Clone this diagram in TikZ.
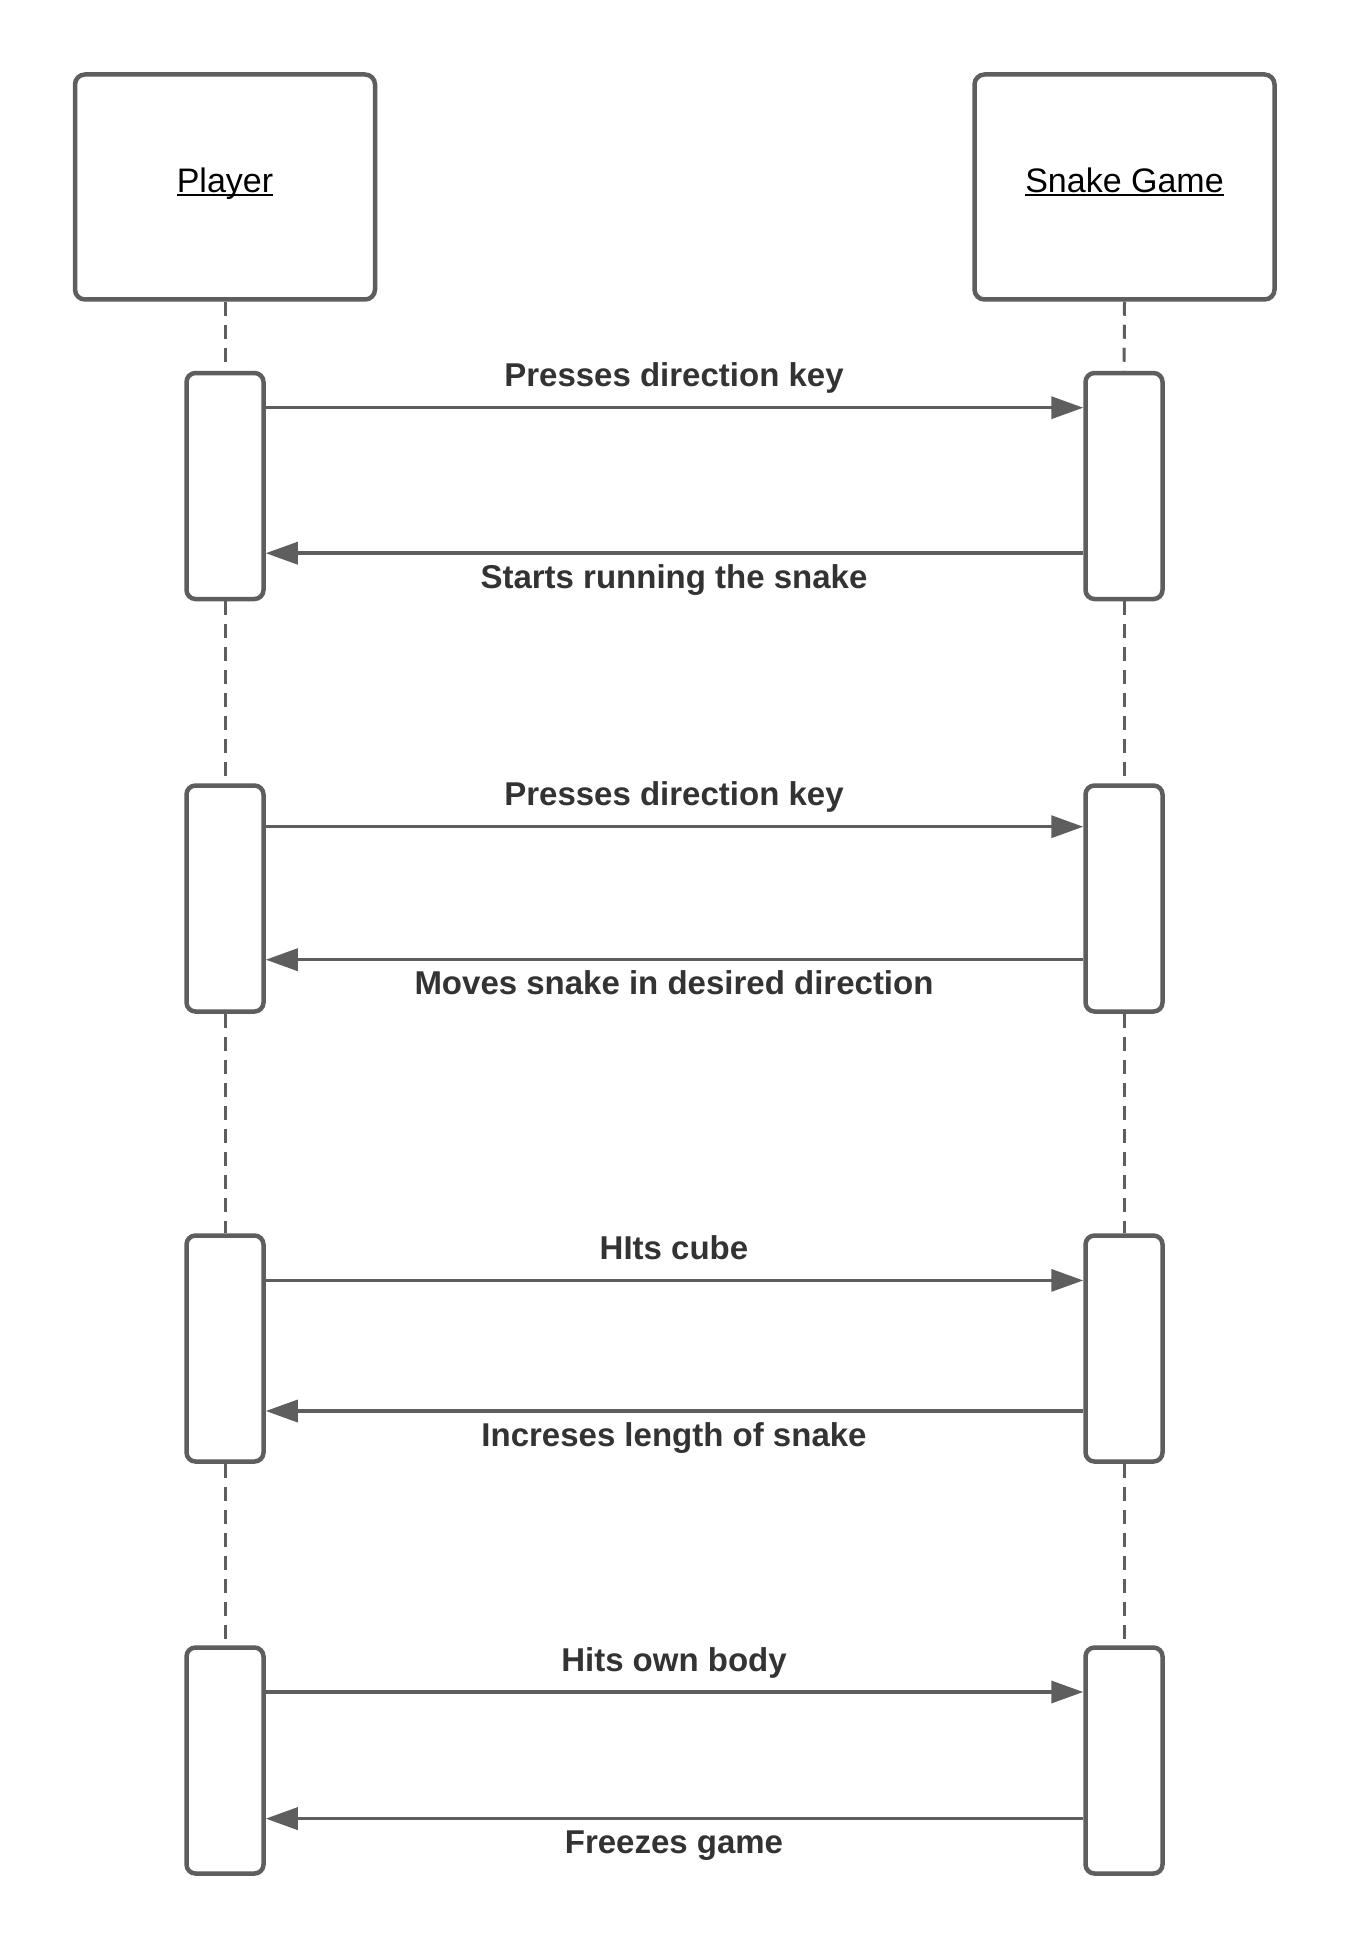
\documentclass[tikz,border=0pt]{standalone}
\usepackage{fontspec}
\setmainfont{Liberation Sans}
\usetikzlibrary{arrows.meta,calc}
\definecolor{ln}{HTML}{5E5E5E}
\definecolor{tx}{HTML}{333333}
\newcommand\myunderl[1]{\setbox0\hbox{#1}\rlap{\rule[-3.5pt]{\wd0}{2pt}}\box0}
\begin{document}
\begin{tikzpicture}[x=1pt,y=-1pt,
 header/.style={draw=ln,line width=4.5pt,rounded corners=10pt,minimum width=300pt,minimum height=225pt,fill=white,font=\fontsize{34}{40}\selectfont,inner sep=0pt,text height=24pt,text depth=12pt},
 act/.style={draw=ln,line width=4.5pt,rounded corners=9pt,minimum width=77pt,minimum height=226pt,fill=white,inner sep=0pt},
 msg/.style={draw=ln,line width=3.5pt,-{Triangle[length=32pt,width=22pt]}},
 lifeline/.style={draw=ln,line width=3pt,dash pattern=on 14pt off 9pt},
 lbl/.style={font=\bfseries\fontsize{33}{40}\selectfont,text=tx,anchor=base,inner sep=0pt}]
\fill[white] (0,0) rectangle (1350,1950);
\useasboundingbox (0,0) rectangle (1350,1950);

\node[header] (player) at (225,187) {\myunderl{Player}};
\node[header] (game) at (1124.5,187) {\myunderl{Snake Game}};

\node[act] (p1) at (225,486) {};
\node[act] (p2) at (225,898.5) {};
\node[act] (p3) at (225,1348.5) {};
\node[act] (p4) at (225,1760.5) {};
\node[act] (g1) at (1124,486) {};
\node[act] (g2) at (1124,898.5) {};
\node[act] (g3) at (1124,1348.5) {};
\node[act] (g4) at (1124,1760.5) {};

\draw[lifeline] (player.south) -- (p1.north);
\draw[lifeline] (p1.south) -- (p2.north);
\draw[lifeline] (p2.south) -- (p3.north);
\draw[lifeline] (p3.south) -- (p4.north);
\draw[lifeline] (game.south) -- (g1.north);
\draw[lifeline] (g1.south) -- (g2.north);
\draw[lifeline] (g2.south) -- (g3.north);
\draw[lifeline] (g3.south) -- (g4.north);

\draw[msg] (p1.east |- 0,407.7) -- (g1.west |- 0,407.7);
\draw[msg] (g1.west |- 0,553.2) -- (p1.east |- 0,553.2);
\draw[msg] (p2.east |- 0,826.7) -- (g2.west |- 0,826.7);
\draw[msg] (g2.west |- 0,959.7) -- (p2.east |- 0,959.7);
\draw[msg] (p3.east |- 0,1280.4) -- (g3.west |- 0,1280.4);
\draw[msg] (g3.west |- 0,1411) -- (p3.east |- 0,1411);
\draw[msg] (p4.east |- 0,1692) -- (g4.west |- 0,1692);
\draw[msg] (g4.west |- 0,1818.6) -- (p4.east |- 0,1818.6);

\node[lbl] (l1) at (674,386.7) {Presses direction key};
\node[lbl] (l2) at (674,588.2) {Starts running the snake};
\node[lbl] (l3) at (674,805.7) {Presses direction key};
\node[lbl] (l4) at (674,994.7) {Moves snake in desired direction};
\node[lbl] (l5) at (674,1259.4) {HIts cube};
\node[lbl] (l6) at (674,1446) {Increses length of snake};
\node[lbl] (l7) at (674,1671) {Hits own body};
\node[lbl] (l8) at (674,1853.6) {Freezes game};
\end{tikzpicture}
\end{document}
